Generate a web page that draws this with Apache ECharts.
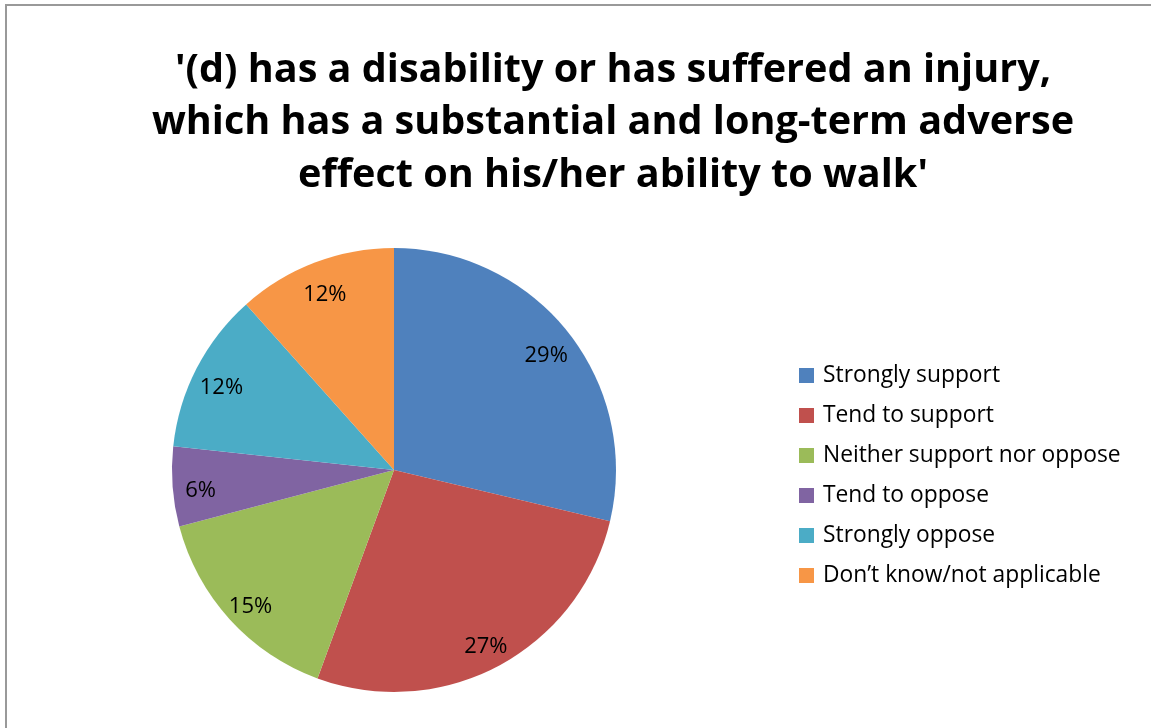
<!DOCTYPE html>
<html><head><meta charset="utf-8">
<script src="https://cdn.jsdelivr.net/npm/echarts@6/dist/echarts.min.js"></script>
<style>html,body{margin:0;padding:0;background:#fff}#c{width:1151px;height:728px}</style>
</head><body><div id="c"></div>
<script>
const titleText = "'(d) has a disability or has suffered an injury,\nwhich has a substantial and long-term adverse\neffect on his/her ability to walk'";
const categories = ["Strongly support","Tend to support","Neither support nor oppose","Tend to oppose","Strongly oppose","Don\u2019t know/not applicable"];
const values = [28.7, 26.9, 15.3, 5.8, 11.7, 11.6];
const colors = ["#4f81bd","#c0504d","#9bbb59","#8064a2","#4bacc6","#f79646"];

const chart = echarts.init(document.getElementById('c'));
const data = categories.map((n,i)=>({name:n,value:values[i],itemStyle:{color:colors[i]}}));
const FONT = 'Open Sans';
chart.setOption({
  animation:false,
  backgroundColor:'#fff',
  title:{text:titleText,left:608,top:39,textAlign:'center',
    textStyle:{fontFamily:FONT,fontWeight:'bold',fontSize:39.6,lineHeight:52.5,color:'#000'}},
  legend:{orient:'vertical',left:794,top:359,itemWidth:15,itemHeight:15,itemGap:17,icon:'rect',
    data:categories,
    textStyle:{fontFamily:FONT,fontSize:22.8,lineHeight:23,color:'#000',padding:[0,0,0,4]}},
  graphic:[{type:'rect',shape:{x:6,y:5,width:1170,height:750},style:{fill:'none',stroke:'#999',lineWidth:2},silent:true}],
  series:[
    {type:'pie',center:[394,470],radius:[0,222],startAngle:90,clockwise:true,
     data:data,label:{show:false},labelLine:{show:false},emphasis:{disabled:true}},
    {type:'pie',center:[394,470],radius:[160,222],startAngle:90,clockwise:true,silent:true,
     data:categories.map((n,i)=>({name:n,value:values[i],itemStyle:{color:'rgba(0,0,0,0)'}})),
     label:{show:true,position:'inside',fontFamily:FONT,fontSize:22,color:'#000',offset:[0,6],
       formatter:p=>Math.round(p.value)+'%'},
     labelLine:{show:false},emphasis:{disabled:true},legendHoverLink:false}
  ]
});
</script></body></html>
